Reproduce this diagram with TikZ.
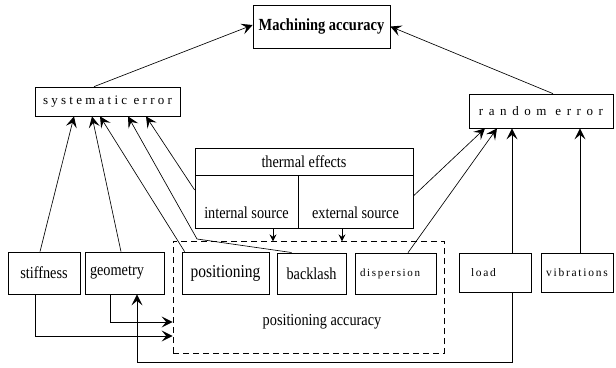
\documentclass[tikz,border=0pt]{standalone}
\usepackage{fontspec}
\setmainfont{Liberation Serif}[FakeStretch=0.85]
\newfontfamily\sysfont{Liberation Serif}[LetterSpace=25]
\newfontfamily\randfont{Liberation Serif}[LetterSpace=43]
\newfontfamily\smallsp{Liberation Serif}[LetterSpace=15]
\usetikzlibrary{arrows.meta}
\newcommand\fsz[1]{\fontsize{#1}{#1}\selectfont}

\begin{document}
\begin{tikzpicture}[x=1pt,y=-1pt,
  box/.style={draw, line width=0.7pt, inner sep=0pt, font=\fsz{16.8}},
  arr/.style={line width=0.65pt, -{Stealth[length=11pt,width=11pt,inset=4.5pt,line width=1pt]}},
  tinyarr/.style={line width=0.65pt, -{Stealth[length=7pt,width=7pt,inset=2.5pt,line width=0.8pt]}},
  dashbox/.style={draw, line width=0.7pt, dash pattern=on 6pt off 4pt, inner sep=0pt}
  ]
\useasboundingbox (0,0) rectangle (616,367);

% top level
\node[box, minimum width=137pt, minimum height=43pt, font=\fsz{17}\bfseries] (mach) at (321.5,26.5) {Machining accuracy};
\node[box, minimum width=145pt, minimum height=29pt, font=\sysfont\fsz{13}] (sys) at (107.5,101.5) {systematic error};
\node[box, minimum width=144pt, minimum height=34pt, font=\randfont\fsz{13}] (rand) at (541,111) {random error};

% thermal effects block
\node[box, minimum width=218pt, minimum height=27pt] (thermal) at (304,161.5) {thermal effects};
\node[box, minimum width=103pt, minimum height=53pt, text height=35pt, text depth=2pt] (internal) at (246.5,201.5) {internal source};
\node[box, minimum width=115pt, minimum height=53pt, text height=35pt, text depth=2pt] (external) at (355.5,201.5) {external source};

% positioning accuracy group
\node[dashbox, minimum width=271pt, minimum height=112pt] (posacc) at (308.5,297) {};
\node[font=\fsz{16.8}, inner sep=0pt] (posacclabel) at (322,322) {positioning accuracy};

% bottom row
\node[box, minimum width=72pt, minimum height=42pt] (stiff) at (44,273) {stiffness};
\node[box, minimum height=42pt, text width=69pt, inner xsep=5pt, align=left] (geom) at (124.5,273) {geometry};
\node[box, minimum width=87pt, minimum height=42pt, font=\fsz{18.2}] (posn) at (225.5,273) {positioning};
\node[box, minimum width=69pt, minimum height=41pt, line width=0.95pt] (back) at (311.5,273.5) {backlash};
\node[box, minimum height=41pt, text width=71pt, inner xsep=5pt, align=left, font=\smallsp\fsz{11}] (disp) at (395.5,273.5) {dispersion};
\node[box, minimum height=39pt, text width=48pt, inner xsep=12pt, align=left, font=\smallsp\fsz{11.5}] (load) at (495,272.5) {load};
\node[box, minimum width=72pt, minimum height=39pt, font=\smallsp\fsz{11.5}] (vib) at (577,272.5) {vibrations};

% connectors to the top
\draw[arr] ([xshift=-13.5pt]sys.north) -- ([yshift=1.5pt]mach.west);
\draw[arr] ([xshift=12pt]rand.north) -- (mach.east);

% causes of systematic error
\draw[arr] ([xshift=-4pt]stiff.north) -- ([xshift=-33.5pt]sys.south);
\draw[arr] ([xshift=-3.5pt]geom.north) -- ([xshift=-15.5pt]sys.south);
\draw[arr] ([xshift=3pt]posn.north west) -- ([xshift=-7.5pt]sys.south);
\coordinate (bk) at (197,239);
\draw[arr] ([xshift=15pt]back.north west) -- (bk) -- ([xshift=20.5pt]sys.south);
\draw[arr] ([yshift=11.5pt]internal.west) -- ([xshift=38.5pt]sys.south);

% causes of random error
\draw[arr] ([yshift=5.5pt]external.east) -- ([xshift=-56pt]rand.south);
\draw[arr] ([xshift=12.5pt]disp.north) -- ([xshift=-44pt]rand.south);
\draw[arr] ([xshift=17pt]load.north) -- ([xshift=-29pt]rand.south);
\draw[arr] ([xshift=3pt]vib.north) -- ([xshift=39pt]rand.south);

% feedback into positioning accuracy and geometry
\draw[arr] ([xshift=-9pt]stiff.south) |- ([yshift=-39pt]posacc.west);
\draw[arr] ([xshift=-14.5pt]geom.south) |- ([yshift=-25pt]posacc.west);
\draw[arr] ([xshift=17pt]load.south) -- ++(0,70) -| ([xshift=12.5pt]geom.south);

% thermal sources acting on positioning
\draw[tinyarr] ([xshift=26.5pt]internal.south) -- ++(0,13);
\draw[tinyarr] ([xshift=-13.5pt]external.south) -- ++(0,13);
\end{tikzpicture}
\end{document}
